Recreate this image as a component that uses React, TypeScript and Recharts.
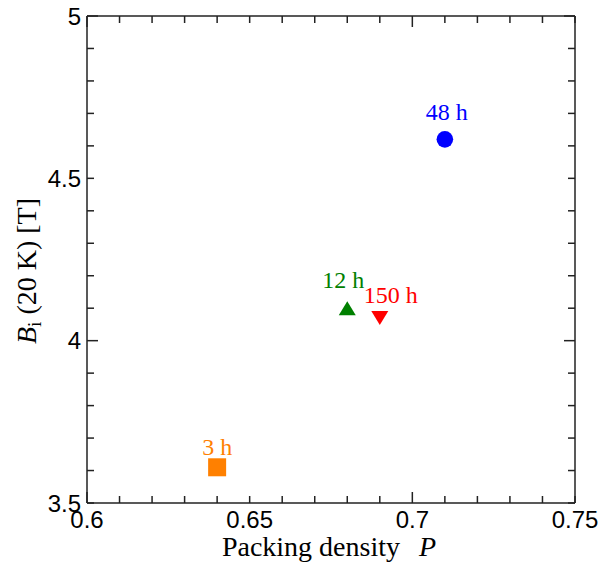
import React from 'react'
import { Scatter, ScatterChart, XAxis, YAxis } from 'recharts'

// tick values
const xTicks = [0.6, 0.61, 0.62, 0.63, 0.64, 0.65, 0.66, 0.67, 0.68, 0.69, 0.7, 0.71, 0.72, 0.73, 0.74, 0.75]
const xLabelTicks = [0.6, 0.65, 0.7, 0.75]
const xLongTicks = [0.6, 0.7]
const yTicks = [3.5, 3.6, 3.7, 3.8, 3.9, 4, 4.1, 4.2, 4.3, 4.4, 4.5, 4.6, 4.7, 4.8, 4.9, 5]
const yLabelTicks = [3.5, 4, 4.5, 5]
const yLongTicks = [4, 5]

// measured points
const durations = ['3 h', '12 h', '48 h', '150 h']
const packingDensity = [0.64, 0.68, 0.71, 0.69]
const fieldBi = [3.61, 4.1, 4.62, 4.07]

const seriesStyle = [
  { color: '#ff8000', shape: 'square', labelDx: 0, labelDy: -12 },
  { color: '#008000', shape: 'triangle', labelDx: -4, labelDy: -20 },
  { color: '#0000ff', shape: 'circle', labelDx: 2, labelDy: -19 },
  { color: '#ff0000', shape: 'triangleDown', labelDx: 11, labelDy: -15 },
]

const axisColor = '#222'
const sansFont = '"Liberation Sans", Arial, sans-serif'
const serifFont = '"Liberation Serif", "Times New Roman", serif'

const hasTick = (list: number[], v: number) => list.some((t) => Math.abs(t - v) < 1e-6)

function tickRenderer(side: 'bottom' | 'top' | 'left' | 'right') {
  return (props: any) => {
    const { x, y, payload } = props
    const v = payload.value as number
    const isX = side === 'bottom' || side === 'top'
    const len = hasTick(isX ? xLongTicks : yLongTicks, v) ? 11 : 7
    const showLabel = hasTick(isX ? xLabelTicks : yLabelTicks, v)
    let line
    if (side === 'bottom') line = <line x1={x} y1={y} x2={x} y2={y - len} />
    else if (side === 'top') line = <line x1={x} y1={y} x2={x} y2={y + len} />
    else if (side === 'left') line = <line x1={x} y1={y} x2={x + len} y2={y} />
    else line = <line x1={x} y1={y} x2={x - len} y2={y} />
    return (
      <g stroke={axisColor} strokeWidth={1.5}>
        {line}
        {showLabel && side === 'bottom' && (
          <text x={x} y={y + 25} textAnchor="middle" fill="#000" stroke="none" fontSize={24} fontFamily={sansFont}>
            {String(v)}
          </text>
        )}
        {showLabel && side === 'left' && (
          <text x={x - 6} y={y + 8.6} textAnchor="end" fill="#000" stroke="none" fontSize={24} fontFamily={sansFont}>
            {String(v)}
          </text>
        )}
      </g>
    )
  }
}

function markerRenderer(index: number) {
  const style = seriesStyle[index]
  return (props: any) => {
    const { cx, cy } = props
    let mark
    if (style.shape === 'square') {
      mark = <rect x={cx - 9} y={cy - 9} width={18} height={18} fill={style.color} />
    } else if (style.shape === 'circle') {
      mark = <circle cx={cx} cy={cy} r={8.3} fill={style.color} />
    } else if (style.shape === 'triangle') {
      mark = <polygon points={`${cx - 8.5},${cy + 7} ${cx + 8.5},${cy + 7} ${cx},${cy - 7}`} fill={style.color} />
    } else {
      mark = <polygon points={`${cx - 8.5},${cy - 7} ${cx + 8.5},${cy - 7} ${cx},${cy + 7}`} fill={style.color} />
    }
    return (
      <g>
        {mark}
        <text
          x={cx + style.labelDx}
          y={cy + style.labelDy}
          textAnchor="middle"
          fill={style.color}
          fontSize={24}
          fontFamily={serifFont}
        >
          {durations[index]}
        </text>
      </g>
    )
  }
}

function XTitle(props: any) {
  const { viewBox } = props
  return (
    <text
      x={viewBox.x + viewBox.width / 2 - 2}
      y={viewBox.y + 53}
      textAnchor="middle"
      fontSize={28}
      fontFamily={serifFont}
      fill="#000"
    >
      Packing density
      <tspan dx={12} fontStyle="italic">{'\u00a0P'}</tspan>
    </text>
  )
}

function YTitle(props: any) {
  const { viewBox } = props
  const cx = 36
  const cy = viewBox.y + viewBox.height / 2 + 11.5
  return (
    <text
      x={cx}
      y={cy}
      transform={`rotate(-90, ${cx}, ${cy})`}
      textAnchor="middle"
      fontSize={28}
      fontFamily={serifFont}
      fill="#000"
    >
      <tspan fontStyle="italic">B</tspan>
      <tspan fontSize={19} dy={5}>i</tspan>
      <tspan dy={-5}>{'\u00a0(20 K) [T]'}</tspan>
    </text>
  )
}

export default function App() {
  const points = durations.map((d, i) => [{ label: d, p: packingDensity[i], bi: fieldBi[i] }])
  return (
    <div style={{ position: 'absolute', left: 0, top: 0, width: 605, height: 565, background: '#fff' }}>
      <ScatterChart width={605} height={565} margin={{ top: 15, right: 29, bottom: 0, left: 0 }}>
        <XAxis
          xAxisId="bottom"
          dataKey="p"
          type="number"
          domain={[0.6, 0.75]}
          ticks={xTicks}
          interval={0}
          height={62}
          tickSize={0}
          tickMargin={0}
          tickLine={false}
          axisLine={{ stroke: axisColor, strokeWidth: 1.5 }}
          tick={tickRenderer('bottom')}
          allowDataOverflow
          label={<XTitle />}
        />
        <XAxis
          xAxisId="top"
          orientation="top"
          dataKey="p"
          type="number"
          domain={[0.6, 0.75]}
          ticks={xTicks}
          interval={0}
          height={1}
          tickSize={0}
          tickMargin={0}
          tickLine={false}
          axisLine={{ stroke: axisColor, strokeWidth: 1.5 }}
          tick={tickRenderer('top')}
          allowDataOverflow
        />
        <YAxis
          yAxisId="left"
          dataKey="bi"
          type="number"
          domain={[3.5, 5]}
          ticks={yTicks}
          interval={0}
          width={87}
          tickSize={0}
          tickMargin={0}
          tickLine={false}
          axisLine={{ stroke: axisColor, strokeWidth: 1.5 }}
          tick={tickRenderer('left')}
          allowDataOverflow
          label={<YTitle />}
        />
        <YAxis
          yAxisId="right"
          orientation="right"
          dataKey="bi"
          type="number"
          domain={[3.5, 5]}
          ticks={yTicks}
          interval={0}
          width={1}
          tickSize={0}
          tickMargin={0}
          tickLine={false}
          axisLine={{ stroke: axisColor, strokeWidth: 1.5 }}
          tick={tickRenderer('right')}
          allowDataOverflow
        />
        {points.map((data, i) => (
          <Scatter
            key={durations[i]}
            data={data}
            xAxisId="bottom"
            yAxisId="left"
            dataKey="bi"
            shape={markerRenderer(i)}
            isAnimationActive={false}
          />
        ))}
        {/* invisible series so the mirrored axes get a domain */}
        <Scatter
          data={points[0]}
          xAxisId="top"
          yAxisId="right"
          dataKey="bi"
          shape={() => <g />}
          isAnimationActive={false}
        />
      </ScatterChart>
    </div>
  )
}
